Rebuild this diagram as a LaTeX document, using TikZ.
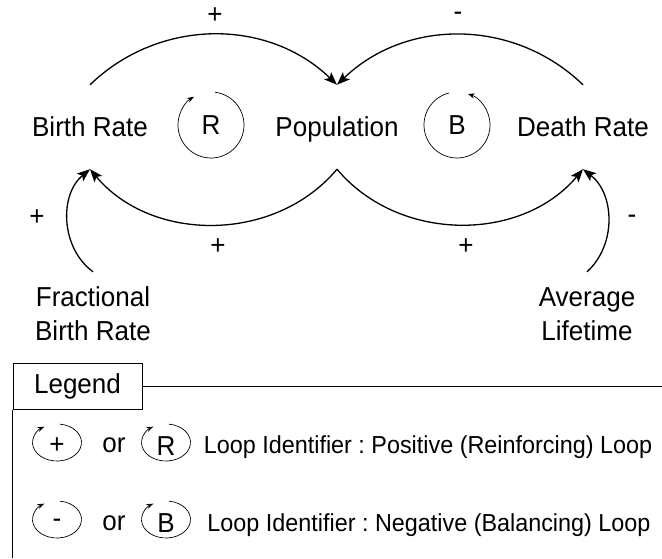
\documentclass[tikz,border=0pt]{standalone}
\usepackage{fontspec}
\setmainfont{Liberation Sans}[FakeStretch=0.95]
\usetikzlibrary{positioning,arrows.meta}
\frenchspacing

\begin{document}
\begin{tikzpicture}[x=1pt,y=1pt,
    every node/.style={inner sep=0pt,font=\fontsize{27.4}{34}\selectfont},
    var/.style={minimum height=84pt,text height=19.6pt,text depth=0pt},
    var2/.style={minimum height=84pt,align=center},
    link/.style={line width=1.3pt,-{Stealth[length=13pt,width=10pt,inset=3pt]}},
    loopline/.style={line width=0.7pt,-{Stealth[length=7pt,width=5pt]}},
    note/.style={font=\fontsize{24.6}{28}\selectfont}]

    \useasboundingbox (0,0) rectangle (662,558);

    \node[var] (br)  at(90,431)  {Birth Rate};
    \node[var] (pop) at(337,431) {Population};
    \node[var] (dr)  at(583,431) {Death Rate};
    \node[var2] (fbr) at(93,244)  {Fractional\\Birth Rate};
    \node[var2] (al)  at(587,244) {Average\\Lifetime};

    \draw[link] (br.north) to[bend left=44] (pop.north);
    \draw[link] (dr.north) to[bend right=44] (pop.north);
    \draw[link] (pop.south) to[bend left=50] (br.south);
    \draw[link] (pop.south) to[bend right=50] (dr.south);
    \draw[link] (fbr.north) to[bend left=52] (br.south);
    \draw[link] (al.north) to[bend right=50] (dr.south);

    \node (s1) at(215,542) {+};
    \node (s2) at(458,542) {-};
    \node (s3) at(37,340)  {+};
    \node (s4) at(218,311) {+};
    \node (s5) at(466,311) {+};
    \node (s6) at(632,339) {-};

    \node (rl) at(211,433) {R};
    \node (bl) at(457,433) {B};
    \draw[loopline] ([shift={(83:33pt)}]rl.center) arc[start angle=83,end angle=-239,radius=33pt];
    \draw[loopline] ([shift={(104:33pt)}]bl.center) arc[start angle=104,end angle=431,radius=33pt];

    % legend
    \coordinate (rim) at(662,0);
    \node[draw,line width=1pt,minimum width=129pt,minimum height=46pt] (lg) at(77.5,172) {Legend};
    \draw[line width=1pt] (lg.east) -- (lg.east -| rim);
    \draw[line width=1pt] (lg.south west) -- (lg.south west |- rim);

    \node (lplus)  at(57,112)  {+};
    \node (lor1)   at(114,113) {or};
    \node (lr)     at(166,112) {R};
    \node[note] (t1) at(428,111) {Loop Identifier : Positive (Reinforcing) Loop};

    \node (lminus) at(57,35)   {-};
    \node (lor2)   at(114,35)  {or};
    \node (lb)     at(166,35)  {B};
    \node[note] (t2) at(429,33) {Loop Identifier : Negative (Balancing) Loop};

    \foreach \n in {lplus,lr,lminus,lb}
        \draw[loopline] ([shift={(83:24.5pt and 18.5pt)},yshift=3.5pt]\n.center) arc[start angle=83,end angle=-239,x radius=24.5pt,y radius=18.5pt];

\end{tikzpicture}
\end{document}
